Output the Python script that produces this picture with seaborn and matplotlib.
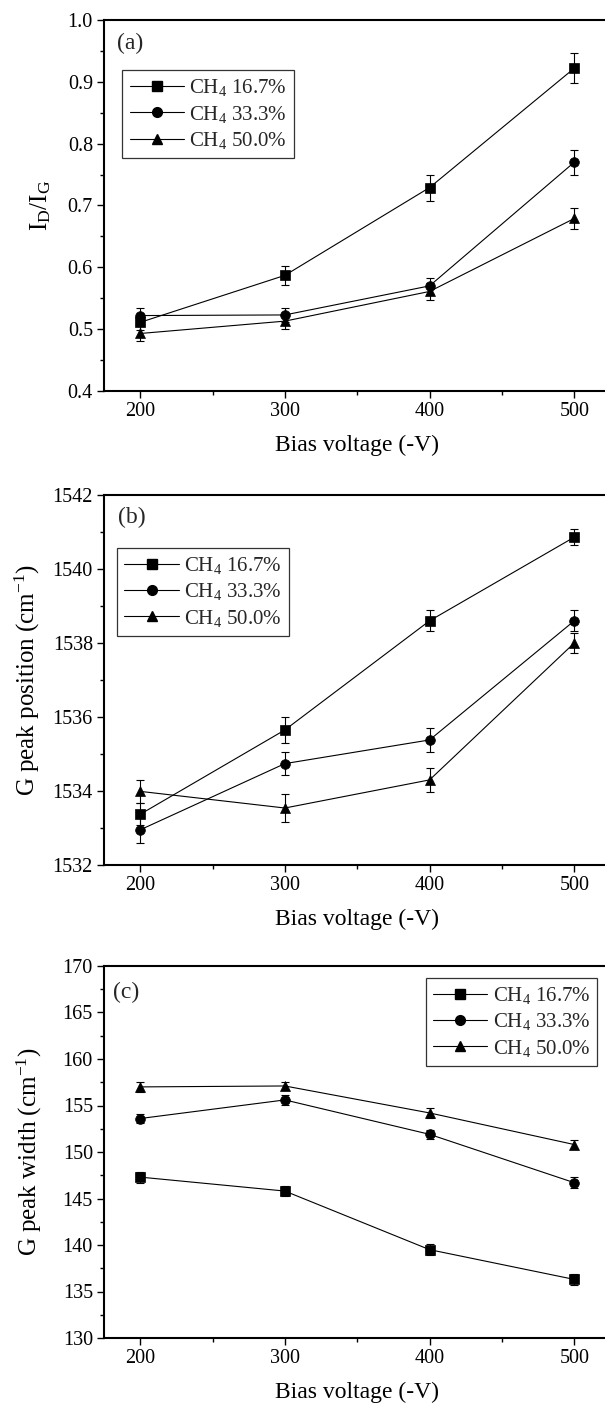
import numpy as np
import pandas as pd
import matplotlib
matplotlib.use("Agg")
import matplotlib.pyplot as plt
from matplotlib.lines import Line2D
from matplotlib.ticker import MultipleLocator
import seaborn as sns

# ---------------- data ----------------
bias = [200, 300, 400, 500]
series = ["CH$_\\mathregular{4}$ 16.7%", "CH$_\\mathregular{4}$ 33.3%", "CH$_\\mathregular{4}$ 50.0%"]

idig_167 = [0.511, 0.587, 0.729, 0.922]
idig_333 = [0.522, 0.523, 0.570, 0.770]
idig_500 = [0.493, 0.513, 0.561, 0.679]
idig_err_167 = [0.012, 0.015, 0.021, 0.024]
idig_err_333 = [0.012, 0.012, 0.013, 0.020]
idig_err_500 = [0.012, 0.012, 0.014, 0.017]

gpos_167 = [1533.37, 1535.65, 1538.60, 1540.86]
gpos_333 = [1532.95, 1534.74, 1535.38, 1538.60]
gpos_500 = [1533.99, 1533.54, 1534.30, 1538.00]
gpos_err_167 = [0.30, 0.35, 0.28, 0.22]
gpos_err_333 = [0.35, 0.32, 0.32, 0.28]
gpos_err_500 = [0.32, 0.37, 0.33, 0.27]

gwid_167 = [147.3, 145.8, 139.5, 136.3]
gwid_333 = [153.6, 155.6, 151.9, 146.7]
gwid_500 = [157.0, 157.1, 154.2, 150.8]
gwid_err_167 = [0.6, 0.5, 0.6, 0.6]
gwid_err_333 = [0.5, 0.5, 0.5, 0.6]
gwid_err_500 = [0.5, 0.4, 0.5, 0.5]

panel_letters = ["(a)", "(b)", "(c)"]
ylabels = ["I$_\\mathregular{D}$/I$_\\mathregular{G}$",
           "G peak position (cm$^\\mathregular{-1}$)",
           "G peak width (cm$^\\mathregular{-1}$)"]
xlabel = "Bias voltage (-V)"
ylims = [(0.4, 1.0), (1532, 1542), (130, 170)]
ymajor = [0.1, 2, 5]
yminor = [0.05, 1, 2.5]

# ---------------- style ----------------
sns.set_theme(style="ticks")
plt.rcParams["font.family"] = ["Liberation Serif", "DejaVu Serif"]
plt.rcParams["mathtext.fontset"] = "custom"
plt.rcParams["mathtext.rm"] = "Liberation Serif"
plt.rcParams["mathtext.it"] = "Liberation Serif:italic"
plt.rcParams["mathtext.bf"] = "Liberation Serif:bold"

W, H = 605, 1405
fig = plt.figure(figsize=(W / 100, H / 100), dpi=100)

left = 104 / W
width = (350 * 1.447) / W
panel_px = [(20, 391), (495, 865), (966, 1338)]
markers = ["s", "o", "^"]
msizes = [6.5, 7, 7.5]

panels = [
    ([idig_167, idig_333, idig_500], [idig_err_167, idig_err_333, idig_err_500]),
    ([gpos_167, gpos_333, gpos_500], [gpos_err_167, gpos_err_333, gpos_err_500]),
    ([gwid_167, gwid_333, gwid_500], [gwid_err_167, gwid_err_333, gwid_err_500]),
]
legend_pos = [("upper left", (0.036, 0.865)),
              ("upper left", (0.026, 0.857)),
              ("upper right", (0.974, 0.968))]
letter_pos = [(0.026, 0.938), (0.028, 0.938), (0.018, 0.930)]
ylabel_x = [-0.10, -0.122, -0.118]

for i, (vals, errs) in enumerate(panels):
    top_px, bot_px = panel_px[i]
    ax = fig.add_axes([left, 1 - bot_px / H, width, (bot_px - top_px) / H])

    frames = []
    for s, v in zip(series, vals):
        frames.append(pd.DataFrame({"bias": bias, "value": v, "series": s}))
    df = pd.concat(frames, ignore_index=True)

    for j, (s, v, e) in enumerate(zip(series, vals, errs)):
        ax.errorbar(bias, v, yerr=e, fmt="none", ecolor="black",
                    elinewidth=0.8, capsize=2.6, capthick=0.8, zorder=2)
        sns.lineplot(data=df[df["series"] == s], x="bias", y="value",
                     marker=markers[j], markersize=msizes[j], color="black",
                     markeredgecolor="black", markeredgewidth=0.5,
                     linewidth=0.8, ax=ax, legend=False, zorder=3)

    ax.set_xlim(175, 525)
    ax.set_ylim(*ylims[i])
    ax.xaxis.set_major_locator(MultipleLocator(100))
    ax.xaxis.set_minor_locator(MultipleLocator(50))
    ax.yaxis.set_major_locator(MultipleLocator(ymajor[i]))
    ax.yaxis.set_minor_locator(MultipleLocator(yminor[i]))
    if i == 0:
        ax.yaxis.set_major_formatter(matplotlib.ticker.FormatStrFormatter("%.1f"))
    ax.tick_params(which="major", direction="out", length=5, width=1.0,
                   labelsize=14.5, colors="black", pad=3)
    ax.tick_params(which="minor", direction="out", length=2.8, width=1.0,
                   colors="black")
    ax.tick_params(axis="x", which="both", top=False)
    ax.tick_params(axis="y", which="both", right=False)
    for sp in ["left", "bottom", "top"]:
        ax.spines[sp].set_linewidth(1.5)
        ax.spines[sp].set_color("black")
    ax.spines["right"].set_visible(False)

    ax.set_xlabel(xlabel, fontsize=17, labelpad=10, color="black")
    ax.set_ylabel(ylabels[i], fontsize=18, color="black")
    ax.yaxis.set_label_coords(ylabel_x[i], 0.5)

    ax.text(letter_pos[i][0], letter_pos[i][1], panel_letters[i],
            transform=ax.transAxes, fontsize=17, ha="left", va="center")

    handles = [Line2D([0], [0], color="black", lw=0.8, marker=markers[j],
                      markersize=msizes[j], markerfacecolor="black",
                      markeredgecolor="black")
               for j in range(3)]
    loc, anchor = legend_pos[i]
    leg = ax.legend(handles, series, loc=loc, bbox_to_anchor=anchor,
                    borderaxespad=0, fontsize=15, frameon=True, fancybox=False,
                    handlelength=2.6, handletextpad=0.25, labelspacing=0.25,
                    borderpad=0.35)
    leg.get_frame().set_edgecolor("black")
    leg.get_frame().set_linewidth(0.9)
    ax.set_facecolor("white")

fig.savefig("out.png", dpi=100, facecolor="white")
